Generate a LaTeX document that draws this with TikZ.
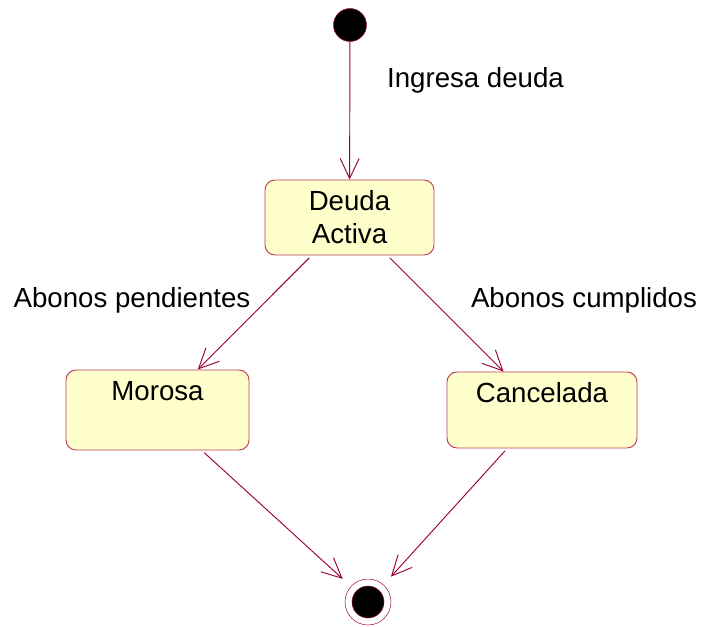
\documentclass[tikz,border=0pt]{standalone}
\usepackage{fontspec}
\setmainfont{Liberation Sans}
\usetikzlibrary{arrows.meta}
\definecolor{linea}{RGB}{153,0,51}
\definecolor{borde}{RGB}{190,60,90}
\definecolor{relleno}{RGB}{255,255,204}
\tikzset{
  estado/.style={draw=borde, fill=relleno, rounded corners=.3cm, line width=.8pt, inner sep=0pt, font=\fontsize{23.6}{28.1}\selectfont},
  trans/.style={draw=linea, line width=.8pt, -{Straight Barb[length=.6cm, width=.57cm]}},
  etiq/.style={font=\fontsize{23.6}{28.1}\selectfont, anchor=base}
}

\begin{document}
\begin{tikzpicture}[x=.03cm, y=-.03cm]
\useasboundingbox (0,0) rectangle (706,627);
% estados
\node[circle, fill=black, draw=linea, minimum size=.99cm, inner sep=0pt] (ini) at (350,25) {};
\node[estado, minimum width=5.07cm, minimum height=2.25cm, align=center] (deuda) at (349.5,217.5) {Deuda\\Activa};
\node[estado, minimum width=5.49cm, text height=.9cm, text depth=1.5cm] (morosa) at (157.5,410) {Morosa};
\node[estado, minimum width=5.7cm, text height=.9cm, text depth=1.38cm] (cancelada) at (542,410) {Cancelada};
\node[circle, fill=white, draw=linea, minimum size=1.38cm, inner sep=0pt] (fin) at (368,602) {};
\node[circle, fill=black, draw=linea, minimum size=.96cm, inner sep=0pt] (fincentro) at (fin) {};
% etiquetas
\node[etiq] (ingresa) at (475.5,88) {Ingresa deuda};
\node[etiq] (pendientes) at (132,308) {Abonos pendientes};
\node[etiq] (cumplidos) at (584,308) {Abonos cumplidos};
% transiciones
\draw[trans] (ini) -- (deuda);
\draw[trans, shorten <=.1cm] (deuda) -- (morosa);
\draw[trans, shorten <=.1cm] (deuda) -- (cancelada);
\draw[trans, shorten <=.1cm, shorten >=.33cm] (morosa) -- (fin);
\draw[trans, shorten <=.1cm, shorten >=.33cm] (cancelada) -- (fin);
\end{tikzpicture}
\end{document}
